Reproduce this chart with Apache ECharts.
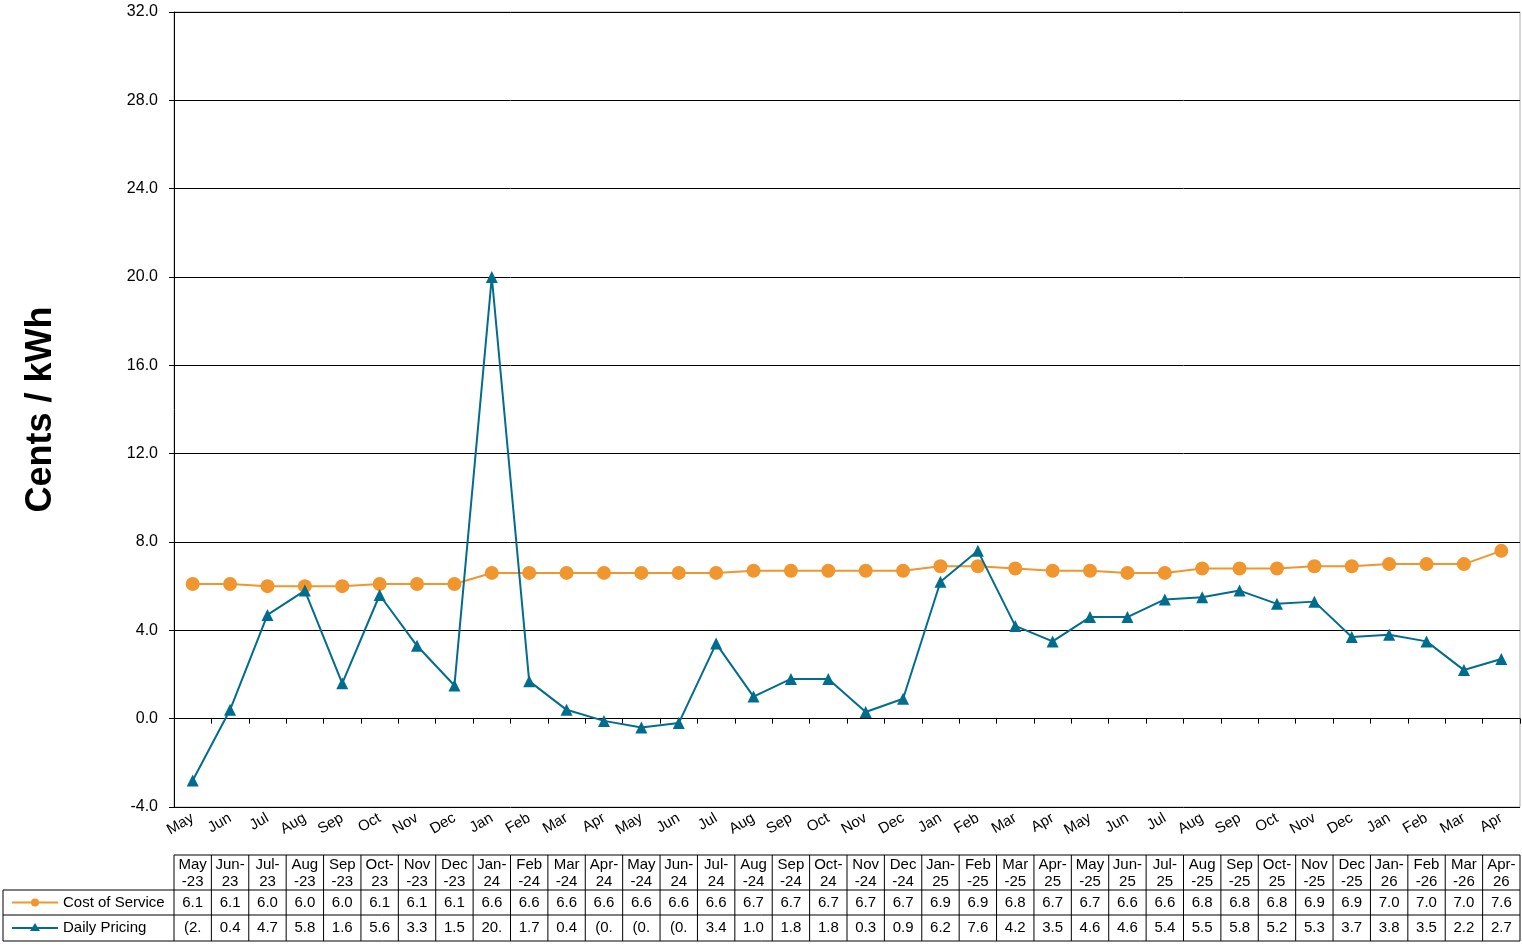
<!DOCTYPE html>
<html><head><meta charset="utf-8">
<script src="https://cdn.jsdelivr.net/npm/echarts@6/dist/echarts.min.js"></script>
<style>html,body{margin:0;padding:0;background:#fff}#c{width:1522px;height:946px}</style>
</head><body><div id="c"></div>
<script>
const months = ['May','Jun','Jul','Aug','Sep','Oct','Nov','Dec','Jan','Feb','Mar','Apr','May','Jun','Jul','Aug','Sep','Oct','Nov','Dec','Jan','Feb','Mar','Apr','May','Jun','Jul','Aug','Sep','Oct','Nov','Dec','Jan','Feb','Mar','Apr'];
const tableHeaders = ['May\n-23','Jun-\n23','Jul-\n23','Aug\n-23','Sep\n-23','Oct-\n23','Nov\n-23','Dec\n-23','Jan-\n24','Feb\n-24','Mar\n-24','Apr-\n24','May\n-24','Jun-\n24','Jul-\n24','Aug\n-24','Sep\n-24','Oct-\n24','Nov\n-24','Dec\n-24','Jan-\n25','Feb\n-25','Mar\n-25','Apr-\n25','May\n-25','Jun-\n25','Jul-\n25','Aug\n-25','Sep\n-25','Oct-\n25','Nov\n-25','Dec\n-25','Jan-\n26','Feb\n-26','Mar\n-26','Apr-\n26'];
const costOfService = [6.1,6.1,6.0,6.0,6.0,6.1,6.1,6.1,6.6,6.6,6.6,6.6,6.6,6.6,6.6,6.7,6.7,6.7,6.7,6.7,6.9,6.9,6.8,6.7,6.7,6.6,6.6,6.8,6.8,6.8,6.9,6.9,7.0,7.0,7.0,7.6];
const dailyPricing = [-2.8,0.4,4.7,5.8,1.6,5.6,3.3,1.5,20.0,1.7,0.4,-0.1,-0.4,-0.2,3.4,1.0,1.8,1.8,0.3,0.9,6.2,7.6,4.2,3.5,4.6,4.6,5.4,5.5,5.8,5.2,5.3,3.7,3.8,3.5,2.2,2.7];

function fmt(v){
  if (v < 0) return '(' + Math.abs(v).toFixed(1).slice(0,2);
  const s = v.toFixed(1);
  return s.length > 3 ? s.slice(0,3) : s;
}
const GL=174, GR=1520, GT=12, GB=807;
const N=months.length, cw=(GR-GL)/N;
const T0=855, T1=890, T2=915, T3=941, TL=3;
const g=[];
const line=(x1,y1,x2,y2)=>g.push({type:'line',shape:{x1,y1,x2,y2},style:{stroke:'#000',lineWidth:1},silent:true});
const txt=(x,y,t,align,size)=>g.push({type:'text',x,y,style:{text:t,fill:'#000',font:(size||15)+'px "Liberation Sans", Arial',align:align||'center',verticalAlign:'middle',lineHeight:17},silent:true});
line(GL,T0,GR,T0); line(TL,T1,GR,T1); line(TL,T2,GR,T2); line(TL,T3,GR,T3);
line(TL,T1,TL,T3);
for(let i=0;i<=N;i++){const x=GL+i*cw; line(x,T0,x,T3);}
for(let i=0;i<N;i++){
  const cx=GL+(i+0.5)*cw;
  txt(cx,(T0+T1)/2+1,tableHeaders[i]);
  txt(cx,(T1+T2)/2,costOfService[i].toFixed(1));
  txt(cx,(T2+T3)/2,fmt(dailyPricing[i]));
}
// legend keys
g.push({type:'line',shape:{x1:12,y1:(T1+T2)/2,x2:58,y2:(T1+T2)/2},style:{stroke:'#F0962E',lineWidth:2}});
g.push({type:'circle',shape:{cx:35,cy:(T1+T2)/2,r:4},style:{fill:'#F0962E'}});
g.push({type:'line',shape:{x1:12,y1:(T2+T3)/2,x2:58,y2:(T2+T3)/2},style:{stroke:'#006D8F',lineWidth:2}});
g.push({type:'polygon',shape:{points:[[35,(T2+T3)/2-5],[30,(T2+T3)/2+3],[40,(T2+T3)/2+3]]},style:{fill:'#006D8F'}});
txt(63,(T1+T2)/2,'Cost of Service','left');
txt(63,(T2+T3)/2,'Daily Pricing','left');
g.push({type:'rect',shape:{x:GL,y:GT,width:GR-GL,height:GB-GT},style:{fill:'none',stroke:'#aaa',lineWidth:1},silent:true});

const chart=echarts.init(document.getElementById('c'));
chart.setOption({
  animation:false,
  grid:{left:GL,right:1522-GR,top:GT,bottom:946-GB},
  xAxis:{type:'category',data:months,boundaryGap:true,
    axisLine:{lineStyle:{color:'#000'}},axisTick:{show:true,alignWithLabel:false,lineStyle:{color:'#000'}},
    axisLabel:{rotate:30,color:'#000',fontSize:15,fontFamily:'Liberation Sans',interval:0,margin:10}},
  yAxis:{type:'value',min:-4,max:32,interval:4,
    name:'Cents / kWh',nameLocation:'middle',nameGap:115,
    nameTextStyle:{fontSize:36,fontWeight:'bold',color:'#000',fontFamily:'Liberation Sans'},
    axisLine:{show:true,lineStyle:{color:'#000'}},axisTick:{show:true,lineStyle:{color:'#000'}},
    axisLabel:{formatter:v=>v.toFixed(1),color:'#000',fontSize:16,fontFamily:'Liberation Sans',margin:16},
    splitLine:{lineStyle:{color:'#000',width:1}}},
  series:[
    {name:'Cost of Service',type:'line',data:costOfService,symbol:'circle',symbolSize:14,
      lineStyle:{color:'#F0962E',width:2},itemStyle:{color:'#F0962E'},z:2},
    {name:'Daily Pricing',type:'line',data:dailyPricing,symbol:'triangle',symbolSize:12,
      lineStyle:{color:'#006D8F',width:2},itemStyle:{color:'#006D8F'},z:3}
  ],
  graphic:g
});
</script></body></html>
